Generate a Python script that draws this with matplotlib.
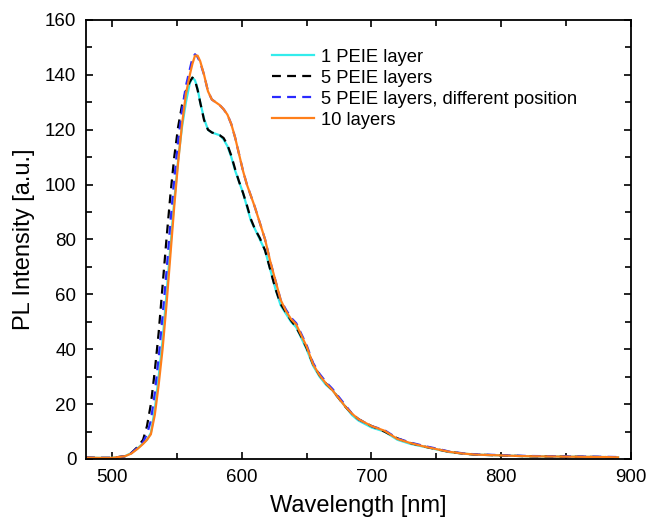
import matplotlib
matplotlib.use("Agg")
import matplotlib.pyplot as plt
from matplotlib.ticker import MultipleLocator

plt.rcParams['font.family'] = ['Liberation Sans', 'DejaVu Sans']

# wavelength grid [nm]
wavelength = [480, 490, 500, 510, 515, 520, 524, 527, 530, 533, 536, 539, 542, 545,
              548, 551, 554, 557, 560, 562, 564, 566, 568, 571, 574, 577, 580, 583,
              586, 589, 592, 595, 598, 601, 604, 607, 610, 614, 618, 622, 626, 630,
              634, 638, 642, 646, 650, 655, 660, 665, 670, 675, 680, 685, 690, 700,
              710, 720, 730, 740, 750, 760, 770, 780, 800, 820, 840, 860, 880, 890]

# PL intensity
one_layer = [0.5, 0.4, 0.4, 1.0, 2.2, 4.0, 5.7, 7.0, 9.5, 18, 30, 43, 60, 77,
             94, 109, 121, 130, 137, 139, 138, 135, 130, 124, 120, 119, 118.5, 118,
             116.5, 114, 110, 105, 101, 97, 92, 87, 84, 80, 76, 69, 62, 56,
             53, 50, 48, 44, 40, 34, 30, 27, 25, 22, 19, 16, 14, 11.5,
             10, 7, 5.5, 4.5, 3.5, 2.5, 2.0, 1.6, 1.3, 1.0, 0.9, 0.8, 0.7, 0.6]

five_layers = [0.5, 0.4, 0.4, 1.0, 2.2, 4.5, 7.0, 12, 20, 32, 46, 63, 80, 96,
               110, 121, 129, 134, 137.5, 139, 138, 134.5, 130, 123.5, 120, 119, 118.5, 118,
               117, 114.5, 110.5, 105.5, 101, 97, 92.5, 87.5, 84, 80.5, 76, 69, 62, 56.5,
               53.5, 50.5, 48, 44.5, 40.5, 34.5, 30.5, 27.5, 25, 22, 19, 16.5, 14.5, 12,
               10, 7.5, 5.8, 4.6, 3.6, 2.6, 2.0, 1.6, 1.3, 1.0, 0.9, 0.8, 0.7, 0.6]

five_layers_pos2 = [0.5, 0.4, 0.4, 1.0, 2.2, 4.2, 6.2, 9, 14, 24, 37, 52, 68, 86,
                    102, 116, 127, 136, 142, 146, 147.5, 146.5, 144.5, 140, 134, 131, 130, 129,
                    127.5, 125.5, 122, 117, 111, 105, 100, 96, 92, 86, 80, 72, 65, 58,
                    54.5, 51.5, 49.5, 45.5, 41.5, 35, 31, 28, 25.5, 22.5, 19.5, 16.5, 14.5, 12,
                    10.5, 7.5, 6, 4.8, 3.8, 2.7, 2.1, 1.7, 1.4, 1.1, 1.0, 0.9, 0.8, 0.7]

ten_layers = [0.5, 0.4, 0.4, 1.0, 2.0, 3.8, 5.5, 7, 9, 16, 27, 40, 56, 74,
              92, 108, 122, 133, 140, 144, 147, 147, 145, 140, 134, 131, 130, 129,
              127.5, 125.5, 122, 117, 111, 105, 100, 96, 92, 86, 80, 72, 65, 58,
              54, 51, 49, 45, 41, 34.5, 30.5, 27.5, 25, 22, 19, 16.5, 14.5, 12,
              10.3, 7.3, 5.8, 4.6, 3.6, 2.6, 2.0, 1.6, 1.3, 1.0, 0.9, 0.8, 0.7, 0.6]

fig = plt.figure(figsize=(6.48, 5.23), dpi=100)
ax = fig.add_axes([0.1327, 0.1224, 0.8411, 0.8394])

dash = (0, (4, 2.8))
ax.plot(wavelength, one_layer, color='#33ecec', lw=1.6, label='1 PEIE layer')
ax.plot(wavelength, five_layers, color='black', lw=1.6, ls=dash, label='5 PEIE layers')
ax.plot(wavelength, five_layers_pos2, color='#2a2aff', lw=1.6, ls=dash,
        label='5 PEIE layers, different position')
ax.plot(wavelength, ten_layers, color='#ff7f1a', lw=1.6, label='10 layers')

ax.set_xlim(480, 900)
ax.set_ylim(0, 160)
ax.xaxis.set_major_locator(MultipleLocator(100))
ax.xaxis.set_minor_locator(MultipleLocator(50))
ax.yaxis.set_major_locator(MultipleLocator(20))
ax.yaxis.set_minor_locator(MultipleLocator(10))
ax.tick_params(which='both', direction='in', top=True, right=True, width=1.2, labelsize=13.5)
ax.tick_params(which='major', length=5, pad=7)
ax.tick_params(which='minor', length=4)
for s in ax.spines.values():
    s.set_linewidth(1.3)

ax.set_xlabel('Wavelength [nm]', fontsize=17, labelpad=7)
ax.set_ylabel('PL Intensity [a.u.]', fontsize=17, labelpad=7)

ax.legend(loc='upper left', bbox_to_anchor=(0.341, 0.935), frameon=False, fontsize=13.2,
          handlelength=2.3, handletextpad=0.4, labelspacing=0.22,
          borderpad=0, borderaxespad=0)

fig.savefig('out.png', dpi=100)
